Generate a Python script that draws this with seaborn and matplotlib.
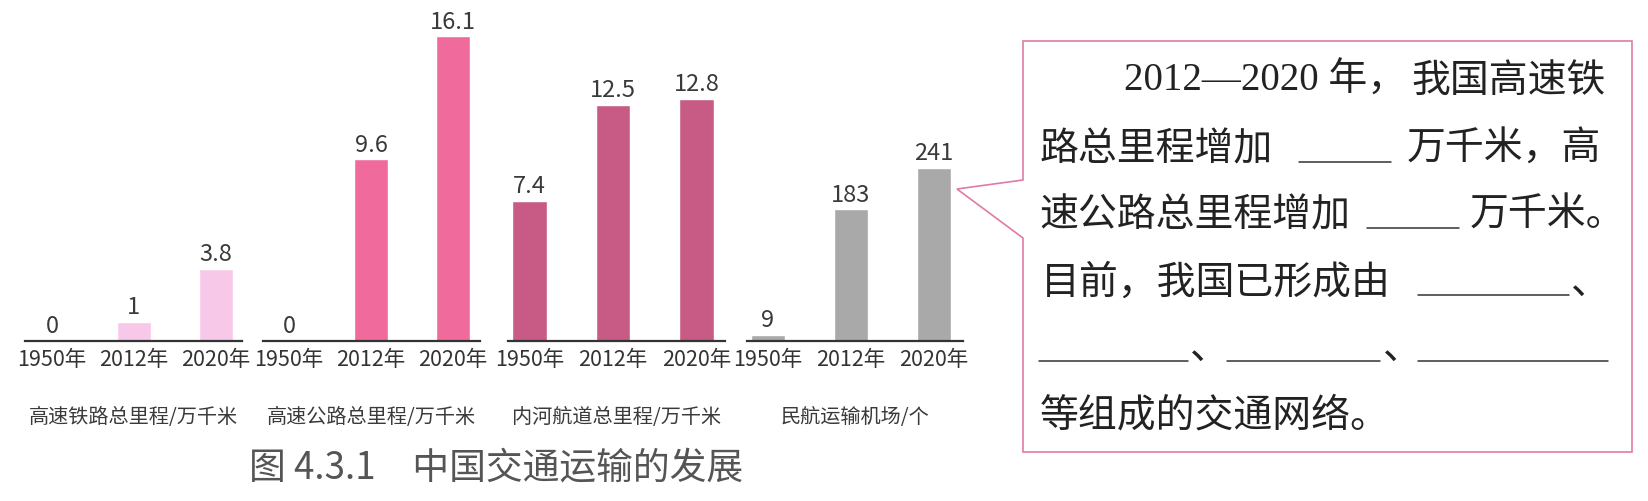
import matplotlib
matplotlib.use("Agg")
import matplotlib.pyplot as plt
import seaborn as sns
from matplotlib.patches import Polygon

# data
years = ["1950年", "2012年", "2020年"]
rail_km = [0, 1, 3.8]          # 高速铁路总里程 / 万千米
highway_km = [0, 9.6, 16.1]    # 高速公路总里程 / 万千米
waterway_km = [7.4, 12.5, 12.8]  # 内河航道总里程 / 万千米
airports = [9, 183, 241]       # 民航运输机场 / 个

panel_names = ["高速铁路总里程/万千米", "高速公路总里程/万千米",
               "内河航道总里程/万千米", "民航运输机场/个"]
panel_colors = ["#f8c8e8", "#f06a9c", "#c75b86", "#a9a9a9"]
caption = "图 4.3.1\u3000中国交通运输的发展"

sns.set_theme(style="white")
plt.rcParams["font.family"] = ["Noto Sans CJK SC", "DejaVu Sans"]

W, H = 1649, 501
fig = plt.figure(figsize=(W / 100, H / 100), dpi=100)

# panel layout in pixels: left, right edge of each axes
panel_lr = [(25, 242), (263, 480), (508, 725), (747, 963)]
panel_xlim = [(-0.33, 2.32), (-0.32, 2.33), (-0.26, 2.34), (-0.25, 2.35)]
panel_ylim = [17.5, 17.5, 17.5, 460]
base_y, top_y = 341, 10

series = [rail_km, highway_km, waterway_km, airports]
for vals, (l, r), xl, ym, col in zip(series, panel_lr, panel_xlim, panel_ylim, panel_colors):
    ax = fig.add_axes([l / W, (H - base_y) / H, (r - l) / W, (base_y - top_y) / H])
    sns.barplot(x=years, y=vals, color=col, saturation=1, width=0.415, ax=ax)
    ax.bar_label(ax.containers[0], fmt="%g", padding=2, fontsize=17, color="#3a3a3a")
    ax.set_xlim(*xl)
    ax.set_ylim(0, ym)
    for s in ["top", "right", "left"]:
        ax.spines[s].set_visible(False)
    ax.spines["bottom"].set_color("#333333")
    ax.spines["bottom"].set_linewidth(1.6)
    ax.set_yticks([])
    ax.tick_params(axis="x", length=0, pad=6, labelsize=15.5, labelcolor="#333333")
    ax.set_xlabel("")
    ax.set_ylabel("")
    ax.patch.set_alpha(0)

# overlay in pixel coordinates for captions and the text box
ov = fig.add_axes([0, 0, 1, 1], zorder=-1)
ov.set_xlim(0, W)
ov.set_ylim(H, 0)
ov.axis("off")

for name, (l, r) in zip(panel_names, panel_lr):
    ov.text((l + r) / 2, 418, name, ha="center", va="center", fontsize=14.5, color="#3a3a3a")

ov.text(496, 468, caption, ha="center", va="center", fontsize=26.5, color="#555555")

# speech box
box = Polygon([(1023, 41), (1632, 41), (1632, 452), (1023, 452), (1023, 238),
               (957, 189), (1023, 180)], closed=True, fill=False,
              edgecolor="#e07aa6", linewidth=1.2)
ov.add_patch(box)

fs = 28
tc = "#222222"
serif = ["Liberation Serif", "Noto Sans CJK SC"]
segments = [
    ("2012—2020 年，", 1124, 81, serif),
    ("我国高速铁", 1411, 81, None),
    ("路总里程增加", 1039, 149, None),
    ("万千米，高", 1407, 149, None),
    ("速公路总里程增加", 1039, 215, None),
    ("万千米。", 1470, 215, None),
    ("目前，我国已形成由", 1041, 283, None),
    ("、", 1571, 283, None),
    ("、", 1190, 348, None),
    ("、", 1383, 348, None),
    ("等组成的交通网络。", 1040, 415, None),
]
for txt, x, y, fam in segments:
    kw = {"family": fam} if fam else {}
    ov.text(x, y, txt, ha="left", va="center", fontsize=fs, color=tc,
            fontweight="light", **kw)

blanks = [(1299, 1391, 162), (1367, 1459, 228), (1418, 1569, 295),
          (1039, 1188, 361), (1227, 1380, 361), (1418, 1608, 361)]
for x0, x1, y in blanks:
    ov.plot([x0, x1], [y, y], color="#333333", lw=1.1)

fig.savefig("out.png", dpi=100)
